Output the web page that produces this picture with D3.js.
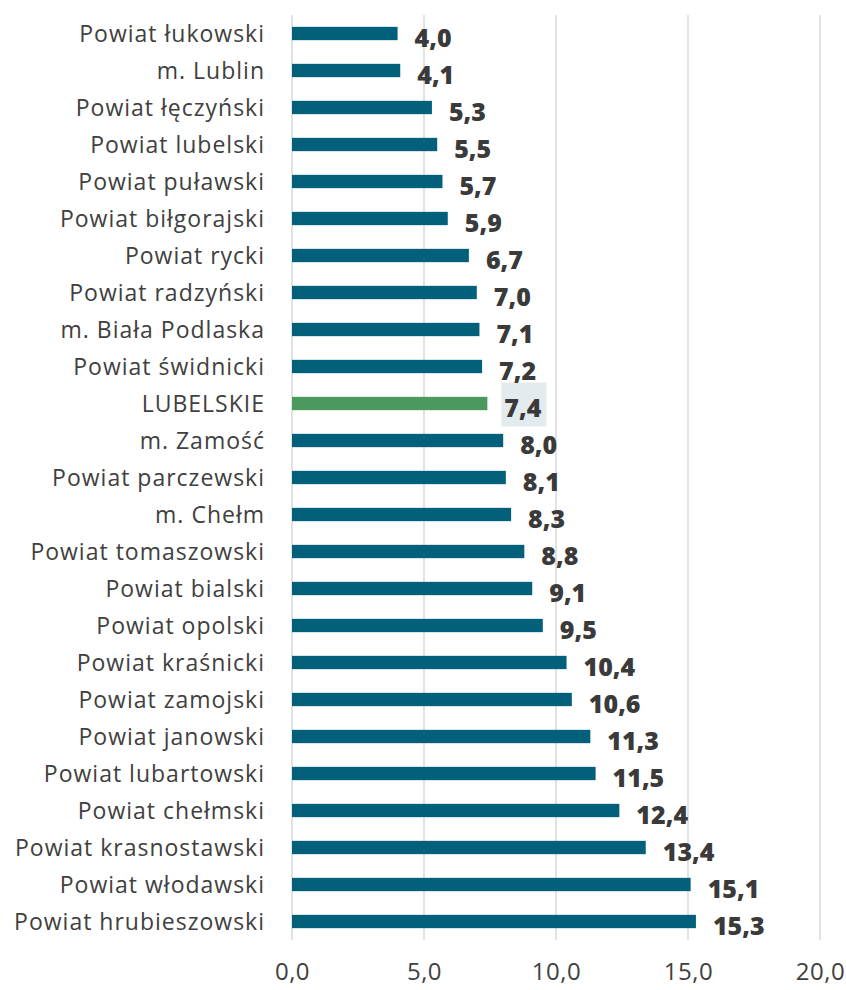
<!DOCTYPE html>
<html>
<head>
<meta charset="utf-8">
<script src="https://cdn.jsdelivr.net/npm/d3@7"></script>
<style>
  body { margin: 0; background: #fff; }
  svg text { font-family: "Open Sans", sans-serif; }
</style>
</head>
<body>
<svg class="barchart" width="846" height="990"></svg>
<script>
var categories = ["Powiat łukowski", "m. Lublin", "Powiat łęczyński", "Powiat lubelski", "Powiat puławski",
  "Powiat biłgorajski", "Powiat rycki", "Powiat radzyński", "m. Biała Podlaska", "Powiat świdnicki",
  "LUBELSKIE", "m. Zamość", "Powiat parczewski", "m. Chełm", "Powiat tomaszowski", "Powiat bialski",
  "Powiat opolski", "Powiat kraśnicki", "Powiat zamojski", "Powiat janowski", "Powiat lubartowski",
  "Powiat chełmski", "Powiat krasnostawski", "Powiat włodawski", "Powiat hrubieszowski"];
var values = [4.0, 4.1, 5.3, 5.5, 5.7, 5.9, 6.7, 7.0, 7.1, 7.2, 7.4, 8.0, 8.1, 8.3, 8.8, 9.1, 9.5,
  10.4, 10.6, 11.3, 11.5, 12.4, 13.4, 15.1, 15.3];
var ticks = [0, 5, 10, 15, 20];
var highlight = "LUBELSKIE";

var svg = d3.select(".barchart"),
    plotLeft = 292, plotRight = 820, plotTop = 15, plotBottom = 940;

var data = categories.map(function(c, i) { return { name: c, value: values[i] }; });

var x = d3.scaleLinear().domain([0, 20]).range([plotLeft, plotRight]);
var y = d3.scaleBand().domain(categories).range([plotTop, plotBottom]).paddingInner(0.64).paddingOuter(0.32);

var fmt = function(v) { return d3.format(".1f")(v).replace(".", ","); };

// gridlines
svg.append("g").selectAll("line")
  .data(ticks)
  .enter().append("line")
    .attr("x1", function(d) { return x(d); })
    .attr("x2", function(d) { return x(d); })
    .attr("y1", plotTop)
    .attr("y2", plotBottom)
    .attr("stroke", "#d9d9d9")
    .attr("stroke-width", 1.5);

// x axis labels
var xAxis = svg.append("g")
    .attr("transform", "translate(0," + plotBottom + ")")
    .call(d3.axisBottom(x).tickValues(ticks).tickSize(0).tickPadding(23).tickFormat(fmt));
xAxis.select(".domain").remove();
xAxis.selectAll("text")
    .attr("fill", "#404040")
    .style("font-family", "'Open Sans', sans-serif")
    .style("font-size", "24px")
    .style("letter-spacing", "0.5px");

// category labels
svg.append("g").selectAll("text")
  .data(data)
  .enter().append("text")
    .attr("x", 265)
    .attr("y", function(d) { return y(d.name) + y.bandwidth() / 2; })
    .attr("dy", "0.35em")
    .attr("text-anchor", "end")
    .attr("fill", "#404040")
    .style("font-size", "23px")
    .style("letter-spacing", "1px")
    .text(function(d) { return d.name; });

// label background for highlight
var hl = data.filter(function(d) { return d.name === highlight; })[0];
svg.append("rect")
    .attr("x", x(hl.value) + 14)
    .attr("y", y(hl.name) + y.bandwidth() / 2 - 21)
    .attr("width", 45)
    .attr("height", 44)
    .attr("fill", "#e4ebee");

// bars
svg.append("g").selectAll("rect")
  .data(data)
  .enter().append("rect")
    .attr("x", x(0))
    .attr("y", function(d) { return y(d.name); })
    .attr("width", function(d) { return x(d.value) - x(0); })
    .attr("height", y.bandwidth())
    .attr("fill", function(d) { return d.name === highlight ? "#4a9a5e" : "#03607a"; });

// value labels
svg.append("g").selectAll("text")
  .data(data)
  .enter().append("text")
    .attr("x", function(d) { return x(d.value) + 17; })
    .attr("y", function(d) { return y(d.name) + y.bandwidth() / 2 + 5; })
    .attr("dy", "0.35em")
    .attr("fill", "#3a3a3a")
    .style("font-size", "25px")
    .style("font-weight", "800")
    .text(function(d) { return fmt(d.value); });
</script>
</body>
</html>
